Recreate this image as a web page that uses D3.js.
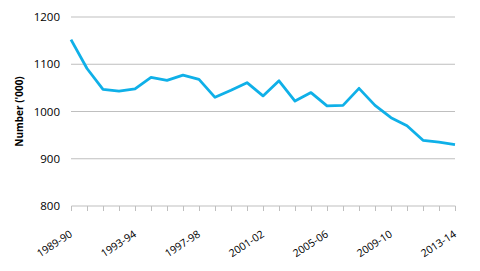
<!DOCTYPE html>
<html>
<head>
<meta charset="utf-8">
<script src="https://cdn.jsdelivr.net/npm/d3@7"></script>
<style>
  body { margin: 0; background: #fff; }
  svg text { font-family: "Open Sans", sans-serif; }
</style>
</head>
<body>
<svg id="chart" width="480" height="271"></svg>
<script>
// financial years shown on the axis
const years = ["1989-90", "1990-91", "1991-92", "1992-93", "1993-94", "1994-95", "1995-96",
    "1996-97", "1997-98", "1998-99", "1999-00", "2000-01", "2001-02", "2002-03", "2003-04",
    "2004-05", "2005-06", "2006-07", "2007-08", "2008-09", "2009-10", "2010-11", "2011-12",
    "2012-13", "2013-14"];
const values = [1152, 1091, 1047, 1043, 1048, 1072, 1066, 1077, 1068, 1030, 1045, 1061,
    1033, 1065, 1022, 1040, 1012, 1013, 1049, 1013, 987, 970, 939, 935, 930];
const yTicks = [800, 900, 1000, 1100, 1200];
const labelYears = ["1989-90", "1993-94", "1997-98", "2001-02", "2005-06", "2009-10", "2013-14"];

const svg = d3.select("#chart");
const margin = { top: 17, right: 25, bottom: 65, left: 71 };
const width = 480 - margin.left - margin.right;
const height = 271 - margin.top - margin.bottom;

const g = svg.append("g").attr("transform", `translate(${margin.left},${margin.top})`);

const x = d3.scalePoint().domain(years).range([0, width]);
const y = d3.scaleLinear().domain([800, 1200]).range([height, 0]);

// gridlines
g.selectAll(".grid")
    .data(yTicks.slice(1))
    .enter()
    .append("line")
    .attr("x1", 0)
    .attr("x2", width)
    .attr("y1", d => y(d))
    .attr("y2", d => y(d))
    .attr("stroke", "#bfbfbf")
    .attr("stroke-width", 1);

// y axis labels (no line)
const yAxis = g.append("g").call(d3.axisLeft(y).tickValues(yTicks).tickFormat(d3.format("d"))
    .tickSize(0).tickPadding(11));
yAxis.select(".domain").remove();
yAxis.selectAll("text").style("font-size", "11.5px").attr("fill", "#000");

// x axis ticks, one per year
const xAxis = g.append("g")
    .attr("transform", `translate(0,${height})`)
    .call(d3.axisBottom(x).tickSizeOuter(0).tickSizeInner(5).tickFormat(""));
xAxis.select(".domain").attr("stroke", "#bfbfbf").attr("d", `M0.5,0H${width + 0.5}`);
xAxis.selectAll(".tick line").attr("stroke", "#bfbfbf");

// rotated labels every fourth year
g.selectAll(".xlabel")
    .data(labelYears)
    .enter()
    .append("text")
    .attr("class", "xlabel")
    .attr("text-anchor", "end")
    .attr("transform", d => `translate(${x(d) + 2},${height + 30}) rotate(-33)`)
    .style("font-size", "10.5px")
    .attr("fill", "#000")
    .text(d => d);

// line
g.append("path")
    .datum(values)
    .attr("fill", "none")
    .attr("stroke", "#0fb0e8")
    .attr("stroke-width", 2.8)
    .attr("stroke-linejoin", "round")
    .attr("d", d3.line().x((d, i) => x(years[i])).y(d => y(d)));

// axis title
svg.append("text")
    .attr("transform", `translate(23,${margin.top + height / 2}) rotate(-90)`)
    .attr("text-anchor", "middle")
    .style("font-size", "10px")
    .style("font-weight", "bold")
    .text("Number ('000)");
</script>
</body>
</html>
